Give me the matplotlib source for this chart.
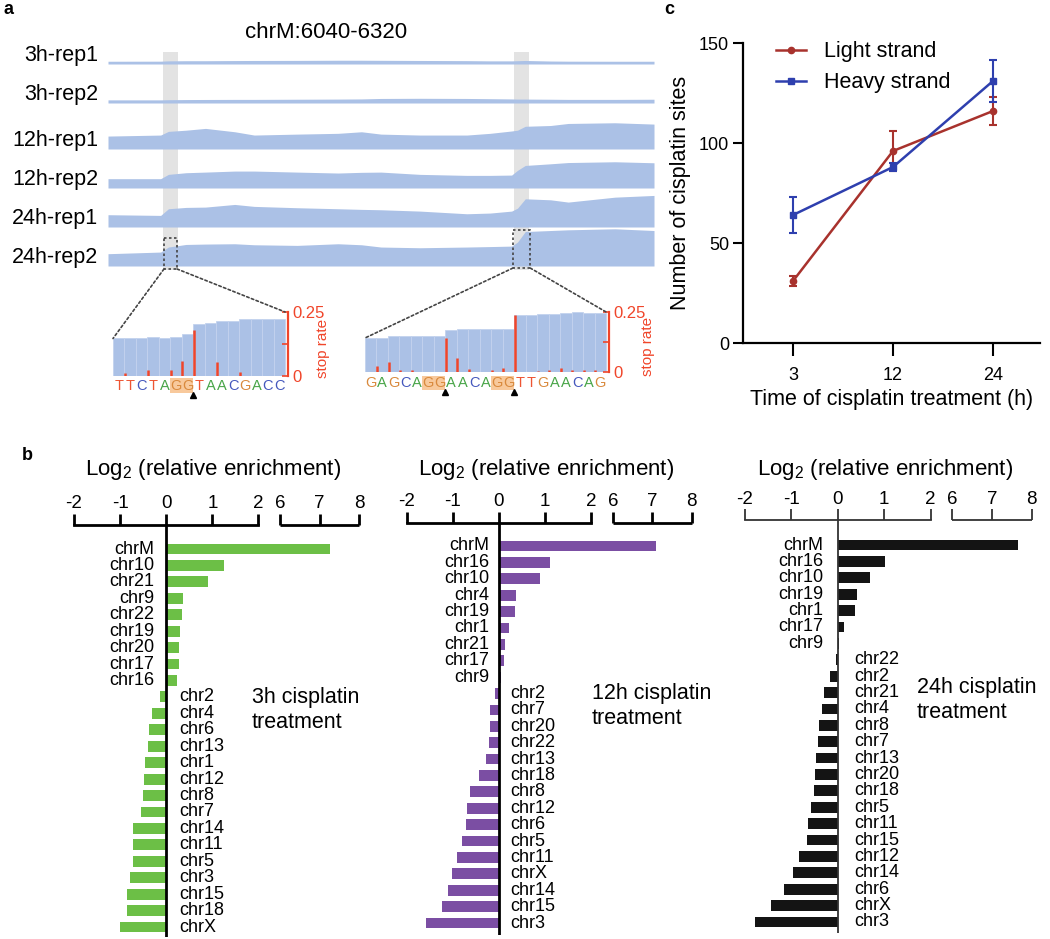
import numpy as np
import matplotlib
matplotlib.use("Agg")
import matplotlib.pyplot as plt
import matplotlib.transforms as mtransforms
from matplotlib.patches import Rectangle, ConnectionPatch

plt.rcParams['font.family'] = ['Liberation Sans', 'DejaVu Sans']
plt.rcParams['mathtext.fontset'] = 'custom'
plt.rcParams['mathtext.rm'] = 'Liberation Sans'
plt.rcParams['mathtext.default'] = 'regular'

# ---------------- data ----------------
# panel a: coverage tracks over chrM:6040-6320
track_names = ['3h-rep1', '3h-rep2', '12h-rep1', '12h-rep2', '24h-rep1', '24h-rep2']
track_pos = [6040, 6067, 6071, 6080, 6090, 6105, 6115, 6137, 6158, 6170, 6180,
             6200, 6224, 6236, 6247, 6250, 6254, 6267, 6276, 6300, 6320]
cov_3h_rep1 = [3.5, 3.6, 4.0, 4.2, 4.2, 4.4, 4.5, 4.6, 4.8, 4.8, 4.7,
               4.5, 4.3, 4.0, 4.0, 4.2, 4.5, 3.8, 3.6, 3.5, 3.5]
cov_3h_rep2 = [4.0, 4.0, 4.2, 4.4, 4.5, 4.6, 4.6, 4.8, 5.0, 5.2, 5.8,
               6.0, 5.8, 5.5, 5.2, 5.0, 5.0, 4.8, 4.6, 4.6, 4.8]
cov_12h_rep1 = [16.5, 17.8, 22.5, 24.0, 26.3, 22.0, 17.8, 19.0, 20.0, 22.0, 19.0,
                17.8, 17.8, 20.0, 23.0, 24.0, 29.0, 30.0, 32.6, 33.5, 31.8]
cov_12h_rep2 = [11.9, 11.9, 17.4, 19.5, 20.3, 21.6, 21.6, 20.3, 19.1, 20.0, 20.3,
                17.4, 16.1, 16.1, 16.5, 22.5, 28.8, 30.9, 32.5, 33.5, 32.2]
cov_24h_rep1 = [15.7, 14.8, 23.3, 25.0, 25.4, 28.8, 26.3, 24.6, 23.3, 22.5, 22.0,
                20.3, 16.9, 17.8, 20.3, 24.0, 36.0, 34.7, 31.8, 38.1, 40.3]
cov_24h_rep2 = [15.7, 17.8, 24.2, 27.5, 28.0, 28.4, 27.1, 26.3, 28.4, 27.1, 24.2,
                23.3, 24.2, 24.8, 25.4, 30.5, 44.0, 45.3, 46.2, 47.5, 45.3]
highlight_regions = [(6068, 6076), (6248, 6256)]

# zoomed insets
seq_left = 'TTCTAGGTAACGACC'
inset_cov_left = [37.7, 38.3, 38.3, 39.3, 38.3, 39.3, 42.3, 52.7, 53.3, 55.3,
                  55.3, 57.0, 57.0, 57.0, 57.0]
stop_edge_left = [1, 3, 5, 6, 7, 9, 11]
stop_rate_left = [0.013, 0.023, 0.023, 0.058, 0.179, 0.054, 0.016]
gg_left = [5]
cut_left = [7]

seq_right = 'GAGCAGGAACAGGTTGAACAG'
inset_cov_right = [34.0, 34.0, 36.0, 36.0, 36.0, 36.0, 36.0, 41.7, 43.0, 43.0, 43.0,
                   43.0, 43.0, 57.3, 57.3, 57.7, 58.0, 59.3, 59.7, 59.3, 59.0]
stop_edge_right = [1, 2, 3, 4, 7, 8, 9, 11, 12, 13, 15, 16, 17, 18, 19, 20]
stop_rate_right = [0.024, 0.042, 0.010, 0.010, 0.142, 0.058, 0.014, 0.010, 0.017,
                   0.236, 0.006, 0.008, 0.017, 0.010, 0.008, 0.007]
gg_right = [5, 11]
cut_right = [7, 13]

# panel b: log2 relative enrichment
chr_3h = ['chrM', 'chr10', 'chr21', 'chr9', 'chr22', 'chr19', 'chr20', 'chr17', 'chr16',
          'chr2', 'chr4', 'chr6', 'chr13', 'chr1', 'chr12', 'chr8', 'chr7', 'chr14',
          'chr11', 'chr5', 'chr3', 'chr15', 'chr18', 'chrX']
val_3h = [7.27, 1.26, 0.90, 0.36, 0.34, 0.30, 0.28, 0.27, 0.24,
          -0.13, -0.31, -0.37, -0.39, -0.45, -0.48, -0.50, -0.54, -0.71,
          -0.73, -0.73, -0.79, -0.85, -0.86, -1.01]
chr_12h = ['chrM', 'chr16', 'chr10', 'chr4', 'chr19', 'chr1', 'chr21', 'chr17', 'chr9',
           'chr2', 'chr7', 'chr20', 'chr22', 'chr13', 'chr18', 'chr8', 'chr12', 'chr6',
           'chr5', 'chr11', 'chrX', 'chr14', 'chr15', 'chr3']
val_12h = [7.09, 1.11, 0.88, 0.36, 0.35, 0.22, 0.14, 0.12, 0.04,
           -0.09, -0.20, -0.20, -0.22, -0.27, -0.43, -0.63, -0.69, -0.71,
           -0.80, -0.91, -1.02, -1.10, -1.23, -1.59]
chr_24h = ['chrM', 'chr16', 'chr10', 'chr19', 'chr1', 'chr17', 'chr9',
           'chr22', 'chr2', 'chr21', 'chr4', 'chr8', 'chr7', 'chr13', 'chr20', 'chr18',
           'chr5', 'chr11', 'chr15', 'chr12', 'chr14', 'chr6', 'chrX', 'chr3']
val_24h = [7.66, 1.01, 0.70, 0.42, 0.38, 0.13, 0.02,
           -0.04, -0.16, -0.29, -0.33, -0.41, -0.43, -0.46, -0.49, -0.52,
           -0.57, -0.64, -0.67, -0.83, -0.96, -1.15, -1.45, -1.78]
enrich_ticks = [-2, -1, 0, 1, 2, 6, 7, 8]

# panel c: number of cisplatin sites
time_labels = ['3', '12', '24']
light_mean = [31, 96, 116]
light_err = [2.5, 10, 7]
heavy_mean = [64, 88, 131]
heavy_err = [9, 2, 10.5]

# ---------------- layout helpers ----------------
W, H = 1050, 939
fig = plt.figure(figsize=(W / 100, H / 100), dpi=100)


def add_ax(l, t, r, b):
    return fig.add_axes([l / W, 1 - b / H, (r - l) / W, (b - t) / H])


def ftext(x, y, s, **kw):
    return fig.text(x / W, 1 - y / H, s, **kw)


track_color = '#abc1e6'
red = '#f0452a'
dot_style = (0, (1.5, 1.5))
TL, TR = 108, 654          # track area, pixels
OV_T, OV_B = 48, 272       # overlay area, pixels

# ---------------- panel a ----------------
ftext(3, 9, 'a', fontsize=13, fontweight='bold', va='center')
ftext(326, 33, 'chrM:6040-6320', fontsize=16, ha='center', va='center')

# grey highlight columns behind the tracks
ax_bg = add_ax(TL, OV_T, TR, OV_B)
ax_bg.set_xlim(6040, 6320)
ax_bg.set_ylim(OV_B, OV_T)
ax_bg.axis('off')
for a, b in highlight_regions:
    ax_bg.axvspan(a, b, ymin=(OV_B - 270) / (OV_B - OV_T), ymax=(OV_B - 52) / (OV_B - OV_T),
                  color='#e3e3e3', lw=0)

track_base = [64, 103, 149, 188, 227, 266]
track_covs = [cov_3h_rep1, cov_3h_rep2, cov_12h_rep1, cov_12h_rep2, cov_24h_rep1, cov_24h_rep2]
for name, base, cov in zip(track_names, track_base, track_covs):
    ax = add_ax(TL, base - 47, TR, base)
    ax.fill_between(track_pos, 0, cov, color=track_color, lw=0)
    ax.set_xlim(6040, 6320)
    ax.set_ylim(0, 60)
    ax.axis('off')
    ax.text(-0.018, 11, name, transform=mtransforms.blended_transform_factory(ax.transAxes, ax.transData),
            ha='right', va='center', fontsize=15.5)

# dotted boxes on top of the tracks
ax_fg = add_ax(TL, OV_T, TR, OV_B)
ax_fg.set_xlim(6040, 6320)
ax_fg.set_ylim(OV_B, OV_T)
ax_fg.axis('off')
zoom_boxes = [(6068.7, 6075.4, 238, 269), (6247.7, 6256.5, 230, 268)]
for x0, x1, yt, yb in zoom_boxes:
    ax_fg.add_patch(Rectangle((x0, yt), x1 - x0, yb - yt, fill=False, ec='#444444',
                              lw=1.2, ls=dot_style))

seq_colors = {'T': '#ee5533', 'C': '#4558bd', 'A': '#48a548', 'G': '#d98a3e'}


def draw_inset(box, seq, cov, edges, rates, gg, cuts, cov_max, letter_y, label_x, zoom_box):
    ax = add_ax(*box)
    n = len(seq)
    ax.bar(np.arange(n), cov, width=1.0, color=track_color, edgecolor='#c3d2ee', lw=0.6)
    ax.set_xlim(-0.5, n - 0.25)
    ax.set_ylim(0, cov_max)
    ax.set_xticks([])
    ax.set_yticks([])
    for s in ax.spines.values():
        s.set_visible(False)
    tw = ax.twinx()
    tw.set_ylim(0, 0.25)
    tw.vlines(np.array(edges) - 0.5 + 0.05, 0, rates, color=red, lw=1.8)
    for k in ['left', 'top', 'bottom']:
        tw.spines[k].set_visible(False)
    tw.spines['right'].set_color(red)
    tw.spines['right'].set_linewidth(1.6)
    tw.set_yticks([0, 0.125, 0.25])
    tw.set_yticklabels(['0', '', '0.25'])
    tw.tick_params(axis='y', colors=red, direction='in', length=4, width=1.2,
                   labelsize=12, pad=3)
    tw.set_ylabel('stop rate', color=red, fontsize=11)
    tw.yaxis.set_label_coords(label_x, 0.43)
    bt = mtransforms.blended_transform_factory(ax.transData, ax.transAxes)
    for i, ch in enumerate(seq):
        ax.text(i, letter_y, ch, transform=bt, ha='center', va='center',
                color=seq_colors[ch], fontsize=10.5)
    for g in gg:
        ax.add_patch(Rectangle((g - 0.5, letter_y - 0.12), 2, 0.24, transform=bt,
                               color='#f8c99c', lw=0, clip_on=False, zorder=0))
    for c in cuts:
        ax.plot(c - 0.5, letter_y - 0.15, marker='^', color='k', ms=5,
                transform=bt, clip_on=False)
    x0, x1, yt, yb = zoom_box
    fig.add_artist(ConnectionPatch(xyA=(x0, yb), coordsA=ax_fg.transData,
                                   xyB=(-0.5, cov[0]), coordsB=ax.transData,
                                   ls=dot_style, color='#444444', lw=1.2))
    fig.add_artist(ConnectionPatch(xyA=(x1, yb), coordsA=ax_fg.transData,
                                   xyB=(n - 0.5, 0.25), coordsB=tw.transData,
                                   ls=dot_style, color='#444444', lw=1.2))


draw_inset((113, 312, 288, 376), seq_left, inset_cov_left, stop_edge_left, stop_rate_left,
           gg_left, cut_left, 64.3, -0.15, 1.16, zoom_boxes[0])
draw_inset((365, 312, 609, 372), seq_right, inset_cov_right, stop_edge_right, stop_rate_right,
           gg_right, cut_right, 60.0, -0.18, 1.13, zoom_boxes[1])

# ---------------- panel c ----------------
ftext(664, 9, 'c', fontsize=13, fontweight='bold', va='center')
ax_c = add_ax(743, 43, 1040, 343)
xc = np.arange(len(time_labels))
eb1 = ax_c.errorbar(xc, light_mean, yerr=light_err, color='#a8322d', marker='o', ms=4.5,
                    lw=1.8, elinewidth=1.5, capsize=3, capthick=1.5)
eb2 = ax_c.errorbar(xc, heavy_mean, yerr=heavy_err, color='#2e3fae', marker='s', ms=4,
                    lw=1.8, elinewidth=1.5, capsize=3, capthick=1.5)
ax_c.set_xlim(-0.5, 2.47)
ax_c.set_ylim(0, 150)
ax_c.set_yticks([0, 50, 100, 150])
ax_c.set_xticks(xc)
ax_c.set_xticklabels(time_labels)
for k in ['top', 'right']:
    ax_c.spines[k].set_visible(False)
for k in ['left', 'bottom']:
    ax_c.spines[k].set_linewidth(1.6)
ax_c.tick_params(axis='y', labelsize=13, length=7, width=1.5, pad=3)
ax_c.tick_params(axis='x', labelsize=13, length=9, width=1.5, pad=8)
ax_c.set_ylabel('Number of cisplatin sites', fontsize=15.5, labelpad=6)
ax_c.set_xlabel('Time of cisplatin treatment (h)', fontsize=15.5, labelpad=4)
ax_c.legend([eb1.lines[0], eb2.lines[0]], ['Light strand', 'Heavy strand'],
            loc='upper left', bbox_to_anchor=(0.045, 1.07), frameon=False, fontsize=15.5,
            handlelength=1.4, handletextpad=0.85, labelspacing=0.45)

# ---------------- panel b ----------------
ftext(22, 455, 'b', fontsize=13, fontweight='bold', va='center')

P6, RS = 2.47, 0.855


def fwd(v):
    v = np.asarray(v, dtype=float)
    return np.where(v <= 2, v, np.where(v >= 6, P6 + (v - 6) * RS, 2 + (v - 2) * (P6 - 2) / 4))


def inv(u):
    u = np.asarray(u, dtype=float)
    return np.where(u <= 2, u, np.where(u >= P6, 6 + (u - P6) / RS, 2 + (u - 2) * 4 / (P6 - 2)))


panels_b = [
    (chr_3h, val_3h, '#6cbf46', 'k', 2.0, (74, 525, 359, 937), 549, 927, (-8.6, 9.4), (252, 710),
     '3h cisplatin\ntreatment'),
    (chr_12h, val_12h, '#7b4ea3', 'k', 2.0, (406.7, 523, 691.7, 935), 546, 923, (-7.2, 8.0), (592, 706),
     '12h cisplatin\ntreatment'),
    (chr_24h, val_24h, '#141414', '#333333', 1.3, (745, 520, 1031.7, 933), 545, 922, (-10.5, 11.5), (917, 700),
     '24h cisplatin\ntreatment'),
]
for names, vals, col, axcol, alw, box, y0, y1, offs, tpos, tlabel in panels_b:
    l, t, r, b = box
    ax = add_ax(l, t, r, b)
    ax.set_xscale('function', functions=(fwd, inv))
    ax.set_xlim(-2, 8)
    step = (y1 - y0) / (len(names) - 1)
    ax.set_ylim(len(names) - 1 + (b - y1) / step, -(y0 - t) / step)
    yy = np.arange(len(names))
    ax.barh(yy, vals, height=0.66, color=col, zorder=2)
    ax.axvline(0, color=axcol, lw=alw, zorder=3)
    for yi, nm, v in zip(yy, names, vals):
        if v >= 0:
            ax.annotate(nm, (0, yi), xytext=(offs[0], 0), textcoords='offset points',
                        ha='right', va='center', fontsize=13)
        else:
            ax.annotate(nm, (0, yi), xytext=(offs[1], 0), textcoords='offset points',
                        ha='left', va='center', fontsize=13)
    for k in ['left', 'right', 'bottom']:
        ax.spines[k].set_visible(False)
    ax.spines['top'].set_bounds(-2, 2)
    ax.spines['top'].set_linewidth(alw)
    ax.spines['top'].set_color(axcol)
    ax.plot([6, 8], [1, 1], transform=ax.get_xaxis_transform(), clip_on=False,
            color=axcol, lw=alw, solid_capstyle='butt')
    ax.xaxis.tick_top()
    ax.set_xticks(enrich_ticks)
    ax.set_xticklabels([str(v) for v in enrich_ticks])
    ax.set_xticks([2, 6], minor=True)
    ax.tick_params(axis='x', which='major', direction='out', length=8, width=alw,
                   color=axcol, labelsize=13.5, pad=1)
    ax.tick_params(axis='x', which='minor', direction='in', length=6, width=alw, color=axcol)
    ax.set_yticks([])
    ax.patch.set_visible(False)
    ftext((l + r) / 2 - 3, 470, 'Log$_2$ (relative enrichment)', fontsize=16,
          ha='center', va='center')
    ftext(tpos[0], tpos[1], tlabel, fontsize=15.5, ha='left', va='center', linespacing=1.2)

fig.savefig('out.png', dpi=100)
